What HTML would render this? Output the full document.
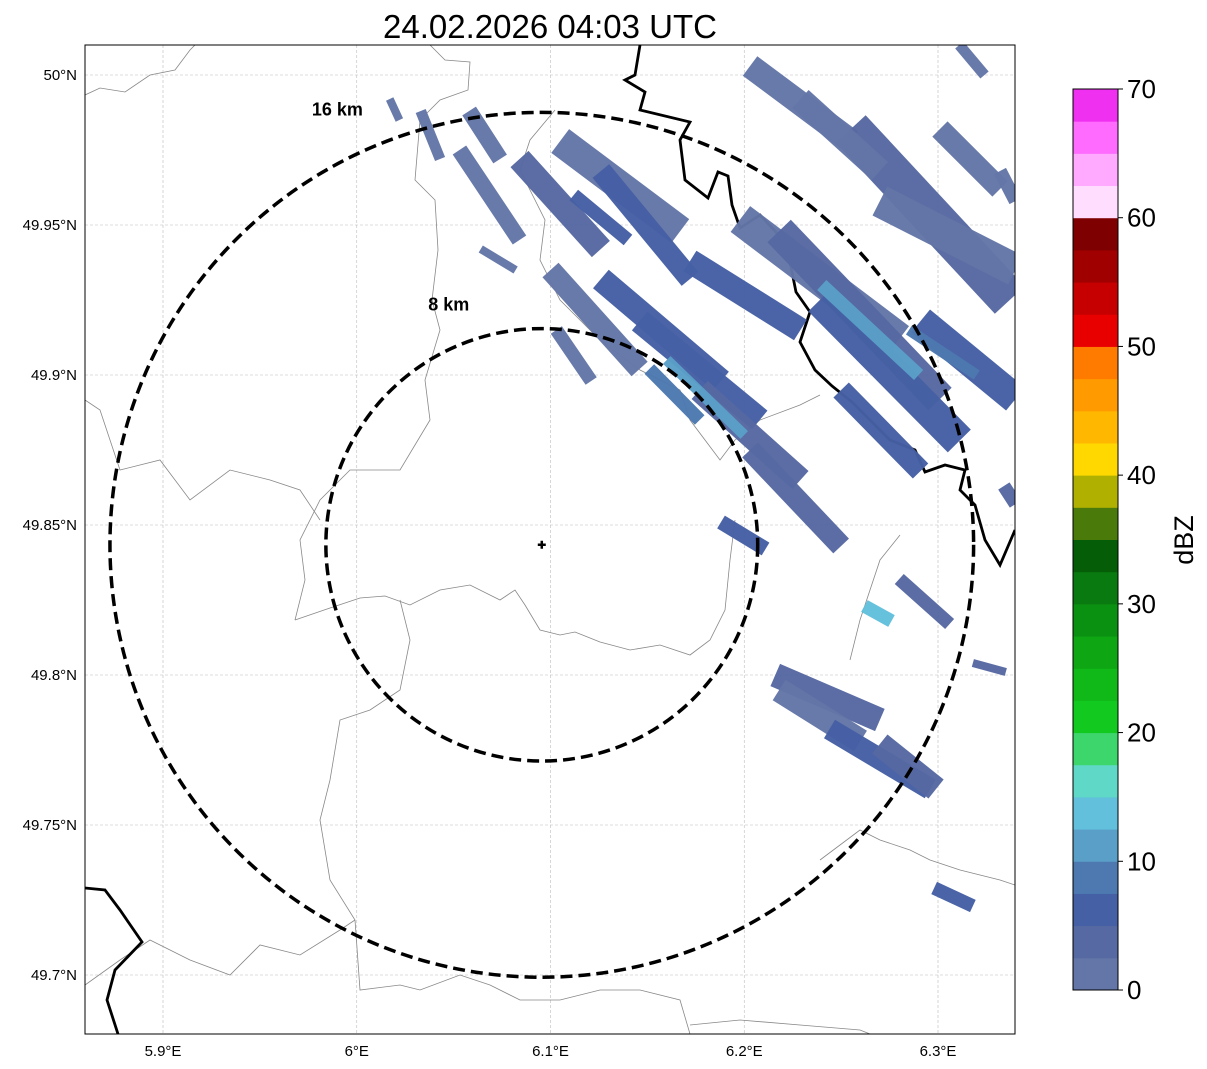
<!DOCTYPE html>
<html><head><meta charset="utf-8"><style>
html,body{margin:0;padding:0;background:#fff;}
svg{display:block;font-family:"Liberation Sans",sans-serif;}
</style></head><body>
<svg id="chart" width="1207" height="1069" viewBox="0 0 1207 1069">
<text x="550" y="38" text-anchor="middle" font-size="33">24.02.2026 04:03 UTC</text>
<defs><clipPath id="mapclip"><rect x="85" y="45" width="930" height="989"/></clipPath></defs>
<g id="grid"></g>
<g id="borders" clip-path="url(#mapclip)" fill="none">
<path stroke="#888" stroke-width="0.8" d="M85,95 L100,88 L125,92 L150,75 L175,70 L190,50 L195,45"/>
<path stroke="#888" stroke-width="0.8" d="M430,45 L445,60 L470,62 L468,90 L440,100 L420,120 L415,180 L435,200 L438,250 L432,300 L440,330 L425,380 L430,420 L400,470 L350,470 L320,500 L300,540 L305,580 L295,620"/>
<path stroke="#888" stroke-width="0.8" d="M295,620 L330,608 L360,598 L385,596 L410,605 L440,590 L470,585 L500,600 L515,590 L525,605 L540,630 L560,635 L575,632 L600,642 L630,650 L660,645 L690,655 L710,640 L725,610 L730,560 L735,520"/>
<path stroke="#888" stroke-width="0.8" d="M85,400 L100,410 L110,440 L120,470 L160,460 L190,500 L230,470 L270,480 L300,490 L320,520"/>
<path stroke="#888" stroke-width="0.8" d="M400,600 L410,640 L400,690 L370,710 L340,720 L330,780 L320,820 L330,880 L355,920 L360,990 L400,985 L420,990 L460,975 L490,985 L520,1000 L560,1000 L600,990 L640,990 L680,1000 L690,1034"/>
<path stroke="#888" stroke-width="0.8" d="M85,985 L120,960 L150,940 L190,960 L230,975 L260,945 L300,955 L340,930 L355,920"/>
<path stroke="#888" stroke-width="0.8" d="M690,1025 L740,1020 L800,1025 L860,1030 L870,1034"/>
<path stroke="#888" stroke-width="0.8" d="M820,860 L860,830 L880,840 L910,850 L930,860 L960,870 L1000,880 L1015,885"/>
<path stroke="#888" stroke-width="0.8" d="M900,535 L880,560 L870,590 L860,620 L850,660"/>
<path stroke="#888" stroke-width="0.8" d="M555,110 L530,140 L520,170 L545,220 L540,260 L560,300 L600,340 L640,370 L680,390 L690,420 L720,460 L735,440 L760,420 L800,405 L820,395"/>
<path stroke="#000" stroke-width="2.8" d="M640,45 L635,75 L625,80 L645,92 L640,110 L690,122 L680,140 L685,180 L708,198 L718,172 L728,176 L732,205 L740,228 L760,215 L776,232 L790,262 L796,292 L810,312 L800,342 L815,370 L832,386 L852,402 L870,420 L890,440 L915,450 L925,472 L945,465 L965,470 L960,490 L975,505 L985,540 L1000,565 L1015,530"/>
<path stroke="#000" stroke-width="2.8" d="M85,888 L105,890 L120,910 L142,942 L115,970 L107,1000 L118,1034"/>
</g>
<g id="echoes" clip-path="url(#mapclip)"></g>
<g id="rings"></g>
<rect x="85" y="45" width="930" height="989" fill="none" stroke="#000" stroke-width="1"/>
<g id="axes"></g>
<g id="colorbar"></g>
<text transform="translate(1193,540) rotate(-90)" text-anchor="middle" font-size="27">dBZ</text>
</svg>
<script>
const lonTicks=[5.9,6.0,6.1,6.2,6.3];
const lonLabels=["5.9°E","6°E","6.1°E","6.2°E","6.3°E"];
const latTicks=[50.0,49.95,49.9,49.85,49.8,49.75,49.7];
const latLabels=["50°N","49.95°N","49.9°N","49.85°N","49.8°N","49.75°N","49.7°N"];
const radarLon=6.0955, radarLat=49.8434;
const ringKm=[8,16];
const ringLabels=["8 km","16 km"];
const ringLabelLon=[6.0475,5.9900];
const ringLabelLat=[49.9215,49.9865];
// echo streaks: start lon/lat, end lon/lat, width (km), reflectivity (dBZ)
const eLon1=[6.084,6.105,6.126,6.100,6.126,6.146,6.151,6.177,6.203,6.058,6.053,6.103,6.203,6.172,6.198,6.218,6.239,6.250,6.255,6.270,6.291,6.229,6.301,6.311,6.332,6.216,6.218,6.244,6.270,6.262,6.280,6.188,6.298,6.318,6.334,6.017,6.033,6.064,6.112,6.160,6.240,6.285];
const eLat1=[49.972,49.978,49.968,49.935,49.932,49.918,49.902,49.895,49.875,49.988,49.975,49.915,50.003,49.938,49.952,49.948,49.925,49.895,49.982,49.958,49.918,49.992,49.982,50.010,49.968,49.800,49.795,49.782,49.777,49.823,49.832,49.851,49.729,49.804,49.863,49.992,49.988,49.942,49.960,49.905,49.930,49.915];
const eLon2=[6.126,6.167,6.172,6.146,6.188,6.208,6.177,6.229,6.250,6.074,6.084,6.121,6.255,6.229,6.280,6.301,6.311,6.291,6.337,6.340,6.340,6.270,6.332,6.324,6.340,6.270,6.260,6.296,6.299,6.276,6.306,6.211,6.318,6.335,6.340,6.022,6.043,6.082,6.140,6.200,6.290,6.320];
const eLat2=[49.942,49.948,49.932,49.902,49.898,49.885,49.885,49.865,49.843,49.972,49.945,49.898,49.978,49.915,49.912,49.892,49.878,49.868,49.925,49.935,49.892,49.968,49.962,50.000,49.958,49.785,49.778,49.762,49.762,49.818,49.817,49.842,49.723,49.801,49.857,49.985,49.972,49.935,49.945,49.880,49.900,49.900];
const eWidth=[0.9,1.1,0.8,0.8,0.9,0.9,0.5,0.9,0.8,0.6,0.6,0.5,0.9,0.9,1.2,1.2,1.2,0.8,1.5,1.2,1.1,0.9,0.8,0.4,0.5,0.9,0.9,0.8,0.9,0.5,0.5,0.55,0.5,0.3,0.5,0.3,0.4,0.3,0.5,0.4,0.5,0.4];
const eDbz=[3,2,5,2,6,5,9,3,4,2,2,2,2,5,2,3,5,6,3,2,5,2,2,2,2,3,2,5,4,13,4,5,5,4,3,2,2,2,6,11,12,8];
// colorbar
const cbBounds=[0,2.5,5,7.5,10,12.5,15,17.5,20,22.5,25,27.5,30,32.5,35,37.5,40,42.5,45,47.5,50,52.5,55,57.5,60,62.5,65,67.5,70];
const cbColors=["#6476a8","#5669a2","#4660a5","#4d79b0","#5a9fc8","#62c0dc","#5fd8c8","#3cd66c","#12c920","#10b818","#0ea613","#0b9111","#087a10","#055d08","#497a0a","#b0b000","#ffd800","#ffb700","#ff9a00","#ff7b00","#e80000","#c60000","#a10000","#7e0000","#ffddff","#ffaaff","#ff6bff","#f030f0"];
const cbTicks=[0,10,20,30,40,50,60,70];

const NS="http://www.w3.org/2000/svg";
const X0=85,X1=1015,Y0=45,Y1=1034;
function xLon(l){return 163+(l-5.9)*1937.5;}
function yLat(l){return 75+(50.0-l)*3000;}
const kmPerLon=111.32*Math.cos(radarLat*Math.PI/180), kmPerLat=111.0;
function mk(tag,attrs,parent){const e=document.createElementNS(NS,tag);for(const k in attrs)e.setAttribute(k,attrs[k]);parent.appendChild(e);return e;}
function colorFor(v){for(let i=0;i<cbColors.length;i++){if(v<cbBounds[i+1])return cbColors[i];}return cbColors[cbColors.length-1];}

const grid=document.getElementById('grid'), axes=document.getElementById('axes');
lonTicks.forEach((t,i)=>{const x=xLon(t);
 const g=mk('line',{x1:x,x2:x,y1:Y0,y2:Y1,stroke:'#bbb','stroke-width':0.6,'stroke-dasharray':'3,2'},grid);
 
 
 const tx=mk('text',{x:x,y:1056,'text-anchor':'middle','font-size':15},axes);tx.textContent=lonLabels[i];
 
 
});
latTicks.forEach((t,i)=>{const y=yLat(t);
 const g=mk('line',{x1:X0,x2:X1,y1:y,y2:y,stroke:'#bbb','stroke-width':0.6,'stroke-dasharray':'3,2'},grid);
 
 
 const tx=mk('text',{x:77,y:y+5,'text-anchor':'end','font-size':15},axes);tx.textContent=latLabels[i];
 
 
});

const echoes=document.getElementById('echoes');
for(let i=0;i<eLon1.length;i++){
 const ln=mk('line',{x1:xLon(eLon1[i]),y1:yLat(eLat1[i]),x2:xLon(eLon2[i]),y2:yLat(eLat2[i]),stroke:colorFor(eDbz[i]),'stroke-width':eWidth[i]*27,'stroke-linecap':'butt','opacity':0.97},echoes);
 
 
}

const rings=document.getElementById('rings');
const cx=xLon(radarLon), cy=yLat(radarLat);
ringKm.forEach((km,i)=>{
 const rx=km/kmPerLon*1937.5, ry=km/kmPerLat*3000;
 const e=mk('ellipse',{cx:cx,cy:cy,rx:rx,ry:ry,fill:'none',stroke:'#000','stroke-width':3.5,'stroke-dasharray':'12,6'},rings);
 
 
 const t=mk('text',{x:xLon(ringLabelLon[i]),y:yLat(ringLabelLat[i]),'text-anchor':'middle','font-size':18,'font-weight':'bold'},rings);
 t.textContent=ringLabels[i];
 
 
});
const p=mk('path',{d:`M${cx-4},${cy} h8 M${cx},${cy-4} v8`,stroke:'#000','stroke-width':2.5},rings);



const cb=document.getElementById('colorbar');
const CX=1073,CW=45,CY0=89,CY1=990;
function yCb(v){return CY1-(v-0)/(70-0)*(CY1-CY0);}
for(let i=0;i<cbColors.length;i++){
 const y1=yCb(cbBounds[i+1]), y0=yCb(cbBounds[i]);
 const r=mk('rect',{x:CX,y:y1,width:CW,height:y0-y1+0.5,fill:cbColors[i]},cb);
 
 
}
const fr=mk('rect',{x:CX,y:CY0,width:CW,height:CY1-CY0,fill:'none',stroke:'#000','stroke-width':1},cb);


cbTicks.forEach(v=>{const y=yCb(v);
 mk('line',{x1:CX+CW,x2:CX+CW+5,y1:y,y2:y,stroke:'#000'},cb);
 const t=mk('text',{x:CX+CW+9,y:y+9,'font-size':26},cb);t.textContent=v;
 
 
});
</script>
</body></html>
